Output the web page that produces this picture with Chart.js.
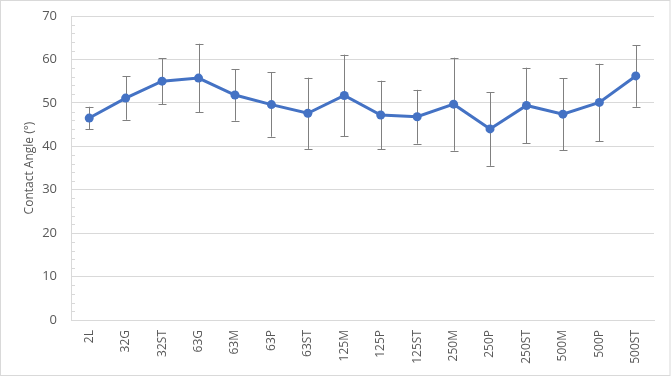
<!DOCTYPE html>
<html><head><meta charset="utf-8">
<script src="https://cdn.jsdelivr.net/npm/chart.js@4"></script>
<style>html,body{margin:0;padding:0;background:#fff;}#wrap{position:relative;width:671px;height:377px;}</style>
</head><body><div id="wrap"><canvas id="c" width="671" height="377"></canvas></div>
<script>
const categories = ["2L","32G","32ST","63G","63M","63P","63ST","125M","125P","125ST","250M","250P","250ST","500M","500P","500ST"];
const contactAngle = [46.5,51.1,55.0,55.7,51.8,49.6,47.6,51.7,47.2,46.8,49.7,44.0,49.4,47.4,50.1,56.2];
const errorValues = [2.6,5.0,5.3,7.9,5.9,7.4,8.2,9.4,7.9,6.2,10.7,8.5,8.7,8.3,8.9,7.1];
const yTicks = [0,10,20,30,40,50,60,70];

const FONT = "'Open Sans', 'Liberation Sans', sans-serif";
const TXT = '#595959';

const frame = {
  id: 'frame',
  beforeDraw(chart) {
    const ctx = chart.ctx;
    ctx.save();
    ctx.fillStyle = '#fff';
    ctx.fillRect(0, 0, chart.width, chart.height);
    ctx.strokeStyle = '#d9d9d9';
    ctx.lineWidth = 1;
    ctx.strokeRect(0.5, 0.5, chart.width - 1.5, chart.height - 2);
    ctx.restore();
  }
};

const minorTicks = {
  id: 'minorTicks',
  afterDraw(chart) {
    const y = chart.scales.y, ctx = chart.ctx, left = chart.chartArea.left;
    ctx.save();
    ctx.strokeStyle = '#d9d9d9';
    ctx.lineWidth = 1;
    for (let v = y.min; v <= y.max; v += 2) {
      if (v % 10 === 0) continue;
      const py = Math.round(y.getPixelForValue(v)) + 0.5;
      ctx.beginPath(); ctx.moveTo(left, py); ctx.lineTo(left + 4, py); ctx.stroke();
    }
    ctx.restore();
  }
};

const errorBars = {
  id: 'errorBars',
  beforeDatasetsDraw(chart) {
    const x = chart.scales.x, y = chart.scales.y, ctx = chart.ctx;
    ctx.save();
    ctx.strokeStyle = '#808080';
    ctx.lineWidth = 1;
    contactAngle.forEach((v, i) => {
      const px = Math.round(x.getPixelForValue(i)) + 0.5;
      const t = y.getPixelForValue(v + errorValues[i]);
      const b = y.getPixelForValue(v - errorValues[i]);
      ctx.beginPath();
      ctx.moveTo(px, t); ctx.lineTo(px, b);
      ctx.moveTo(px - 4, Math.round(t) + 0.5); ctx.lineTo(px + 4, Math.round(t) + 0.5);
      ctx.moveTo(px - 4, Math.round(b) + 0.5); ctx.lineTo(px + 4, Math.round(b) + 0.5);
      ctx.stroke();
    });
    ctx.restore();
  }
};

new Chart(document.getElementById('c'), {
  type: 'line',
  data: {
    labels: categories,
    datasets: [{
      data: contactAngle,
      borderColor: '#4472C4',
      backgroundColor: '#4472C4',
      borderWidth: 3,
      pointRadius: 4.5,
      pointBorderWidth: 0,
      pointBackgroundColor: '#4472C4',
      tension: 0
    }]
  },
  options: {
    responsive: false,
    animation: false,
    events: [],
    layout: { padding: { left: 0, right: 17, top: 16, bottom: 0 } },
    plugins: { legend: { display: false }, tooltip: { enabled: false } },
    scales: {
      x: {
        offset: true,
        grid: { display: false, drawTicks: false },
        border: { display: true, color: '#d9d9d9' },
        ticks: { color: TXT, font: { family: FONT, size: 12 }, minRotation: 90, maxRotation: 90, padding: 10, autoSkip: false },
        afterFit(s) { s.height = 57; s.paddingLeft = 0; s.paddingRight = 0; }
      },
      y: {
        min: 0, max: 70,
        afterBuildTicks(s) { s.ticks = yTicks.map(v => ({ value: v })); },
        grid: { color: '#d9d9d9', drawTicks: false },
        border: { display: true, color: '#d9d9d9' },
        ticks: { color: TXT, font: { family: FONT, size: 13 }, padding: 14 },
        title: { display: true, text: 'Contact Angle (°)', color: TXT, font: { family: FONT, size: 12 }, padding: { top: 22, bottom: 0 } },
        afterFit(s) { s.width = 71; s.paddingTop = 0; s.paddingBottom = 0; }
      }
    }
  },
  plugins: [frame, errorBars, minorTicks]
});
</script></body></html>
